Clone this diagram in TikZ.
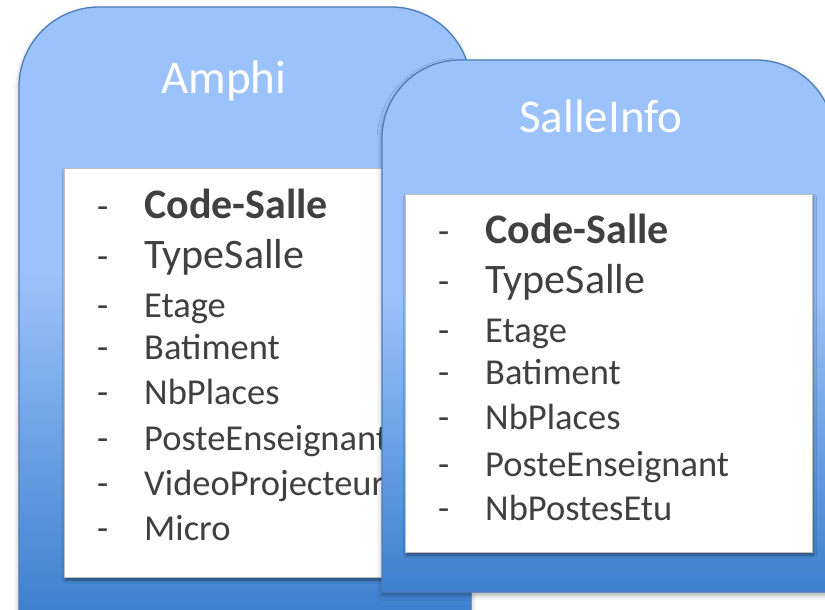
\documentclass[tikz,border=0pt]{standalone}
\usepackage{fontspec}
\setmainfont{Carlito}
\usetikzlibrary{shadows.blur}

\definecolor{tabline}{RGB}{74,126,187}
\definecolor{tablight}{RGB}{155,194,250}
\definecolor{tabdark}{RGB}{60,128,206}
\definecolor{itemgray}{RGB}{64,64,64}

% light blue on top, darkening towards the bottom
\pgfdeclareverticalshading{tabshade}{100bp}{color(0bp)=(tabdark); color(25bp)=(tabdark); color(53bp)=(tablight); color(100bp)=(tablight)}

\tikzset{
  tab/.style={draw=tabline, line width=1.3pt, shade, shading=tabshade,
    blur shadow={shadow xshift=0pt, shadow yshift=-3pt, shadow blur radius=5pt, shadow opacity=35}},
  card/.style={fill=white, draw=black!25, line width=0.8pt,
    blur shadow={shadow xshift=1.5pt, shadow yshift=-3pt, shadow blur radius=3pt, shadow opacity=45}},
  title/.style={text=white, font=\fontsize{47}{50}\selectfont, anchor=base, inner sep=0pt},
  key/.style={text=itemgray, font=\fontsize{42}{46}\selectfont\bfseries, anchor=base west, inner sep=0pt},
  bigattr/.style={text=itemgray, font=\fontsize{42}{46}\selectfont, anchor=base west, inner sep=0pt},
  attr/.style={text=itemgray, font=\fontsize{36.5}{40}\selectfont, anchor=base west, inner sep=0pt},
  dashmark/.style={text=itemgray, font=\fontsize{36.5}{40}\selectfont, anchor=base west, inner sep=0pt},
}

\begin{document}
\begin{tikzpicture}[x=1pt, y=-1pt]
\useasboundingbox (0,0) rectangle (825,610);
\clip (0,0) rectangle (825,610);

% ---- Amphi ----
\path[tab] (19,616) -- (19,87) arc[start angle=180, end angle=90, radius=80pt]
  -- (391,7) arc[start angle=90, end angle=0, radius=80pt] -- (471,616) -- cycle;
\node[title] (amphiTitle) at (224,93) {Amphi};
\path[card] (64,168) rectangle (430,577);

\foreach \y/\n in {218/a1,268/a2,317/a3,359/a4,404/a5,450/a6,495/a7,540/a8}
  \node[dashmark] (\n d) at (97,\y) {-};
\node[key]     (a1) at (144,218) {Code-Salle};
\node[bigattr] (a2) at (144,268) {TypeSalle};
\node[attr]    (a3) at (144,317) {Etage};
\node[attr]    (a4) at (144,359) {Batiment};
\node[attr]    (a5) at (144,404) {NbPlaces};
\node[attr]    (a6) at (144,450) {PosteEnseignant};
\node[attr]    (a7) at (144,495) {VideoProjecteur};
\node[attr]    (a8) at (144,540) {Micro};

% ---- SalleInfo ----
\path[tab] (382,592) -- (382,138) arc[start angle=180, end angle=90, radius=78pt]
  -- (756,60) arc[start angle=90, end angle=0, radius=78pt] -- (834,592) -- cycle;
\node[title] (infoTitle) at (601,132) {SalleInfo};
\path[card] (405,194) rectangle (812,552);

\foreach \y/\n in {243/s1,293/s2,342/s3,384/s4,429/s5,476/s6,520/s7}
  \node[dashmark] (\n d) at (438,\y) {-};
\node[key]     (s1) at (485,243) {Code-Salle};
\node[bigattr] (s2) at (485,293) {TypeSalle};
\node[attr]    (s3) at (485,342) {Etage};
\node[attr]    (s4) at (485,384) {Batiment};
\node[attr]    (s5) at (485,429) {NbPlaces};
\node[attr]    (s6) at (485,476) {PosteEnseignant};
\node[attr]    (s7) at (485,520) {NbPostesEtu};
\end{tikzpicture}
\end{document}
